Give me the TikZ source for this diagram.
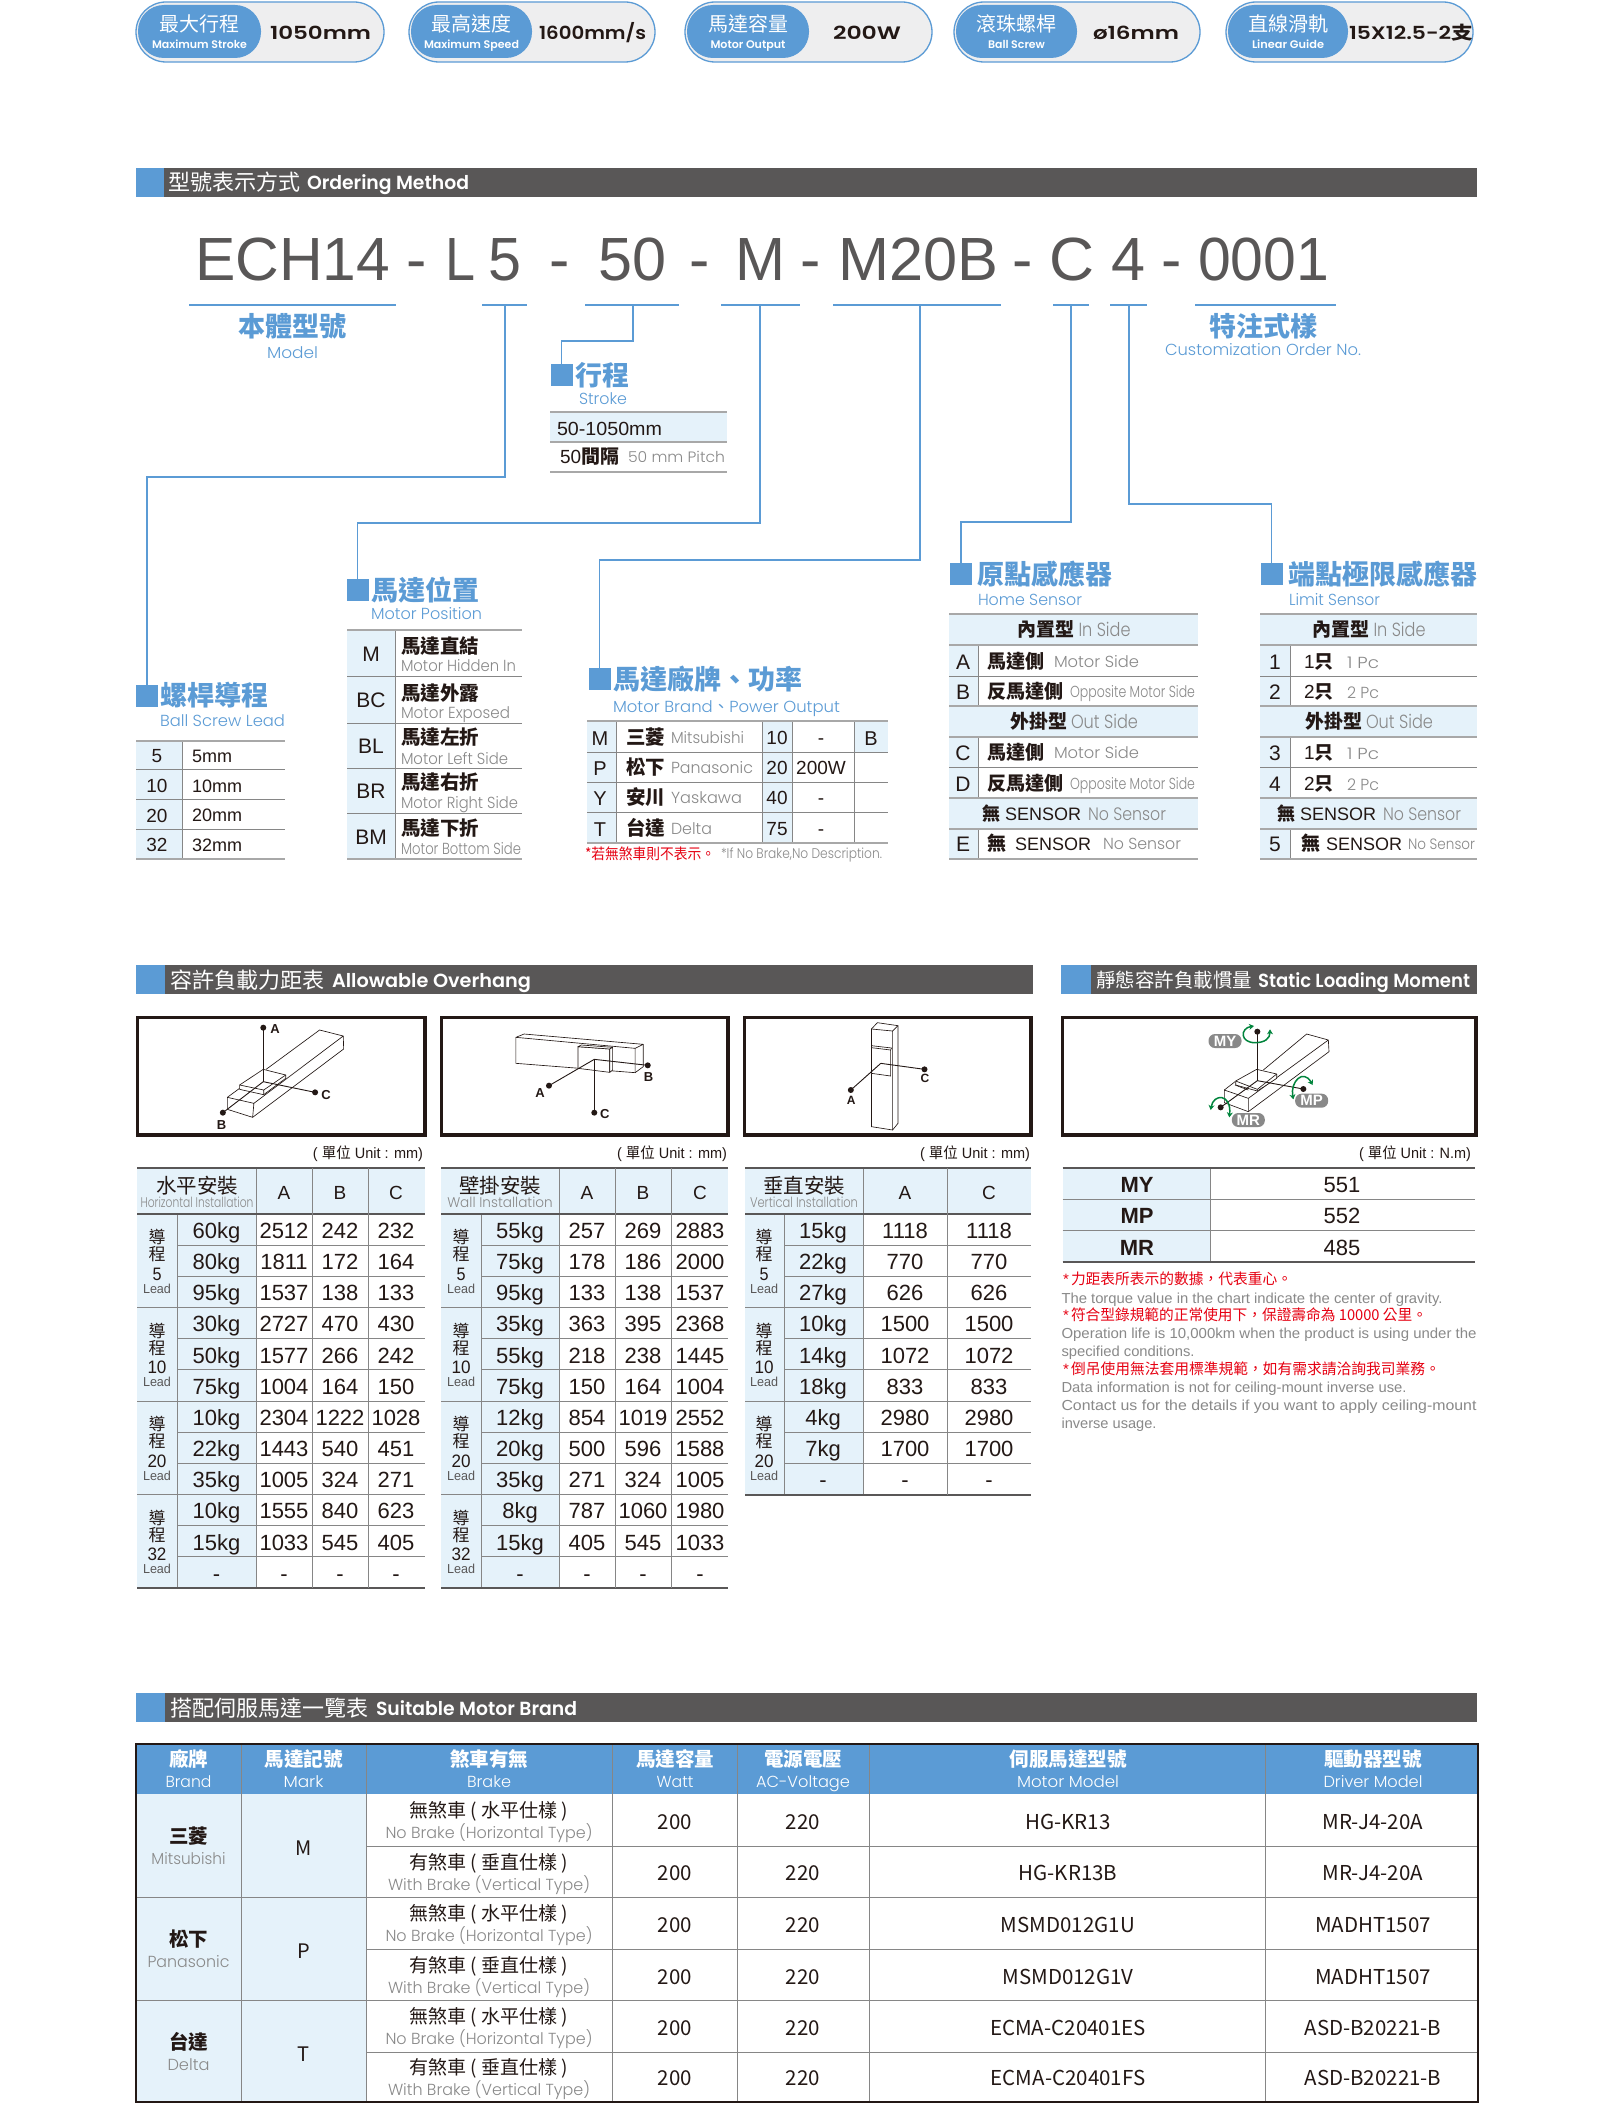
\documentclass[tikz,border=0pt]{standalone}
\usepackage{fontspec}
\usepackage{graphicx}
\usetikzlibrary{arrows.meta}
\setmainfont{Liberation Sans}
\newfontfamily\zcjf{Noto Sans CJK TC}
\newfontfamily\zplf{Poppins Light}
\newfontfamily\zpbf{Poppins SemiBold}
\newcommand\zcj[1]{{\zcjf #1}}
\newcommand\zcb[1]{{\zcjf\bfseries #1}}
\newcommand\zpl[1]{{\zplf #1}}
\newcommand\zpb[1]{{\zpbf #1}}
\newcommand\zfit[2]{\resizebox{#1pt}{\height}{#2}}
\definecolor{ink}{HTML}{231815}
\definecolor{gr}{HTML}{898989}
\definecolor{blu}{HTML}{5B9BD5}
\definecolor{lb}{HTML}{E5F2FA}
\definecolor{dark}{HTML}{595757}
\definecolor{rul}{HTML}{A8A8A8}
\definecolor{grn}{HTML}{00843C}
\definecolor{redn}{HTML}{E60012}
\definecolor{pbg}{HTML}{EEEEEF}
\newcommand\zg[2]{\textcolor{gr}{\zfit{#1}{\zpl{#2}}}}
\newcommand\zb[2]{\textcolor{blu}{\zfit{#1}{\zpl{#2}}}}
\newcounter{nn}
\newcommand\lab[5][]{\stepcounter{nn}\node[txt,yshift={-0.36*#4 pt - 0.8pt},#1] (n\thenn) at ({#2},{#3}) {\fontsize{#4}{#4}\selectfont #5};}
\newcommand\zhl[4][irule]{\draw[#1] (#2,#4) -- (#3,#4);}
\newcommand\zvl[4][irule]{\draw[#1] (#2,#3) -- (#2,#4);}
\newcommand\zpill[9]{%
  \fill[pbg,draw=blu,line width=1.3pt,rounded corners=30pt] (#1,2) rectangle (#2,62);
  \fill[blu,rounded corners=26pt] ({#1+2},5) rectangle (#3,58);
  \lab{(#1+2+#3)/2}{24}{20}{\textcolor{white}{\zcj{#4}}}
  \lab{(#1+2+#3)/2}{44}{11}{\textcolor{white}{\zfit{#6}{\zpb{#5}}}}
  \lab[anchor=base west]{#8}{32}{18}{\zfit{#9}{\zpb{#7}}}
}
\newcommand\ohgrid[5]{% x0, xlead, xkg, xright, nrows
  \fill[lb] (#1,1168) rectangle (#4,1214);
  \pgfmathsetmacro\yend{1214+31.17*#5}
  \fill[lb] (#1,1214) rectangle (#3,\yend);
  \foreach \q in {1,...,#5}{
    \pgfmathsetmacro\yq{1214+31.17*\q}
    \pgfmathtruncatemacro\mq{mod(\q,3)}
    \ifnum\mq=0 \draw[irule] (#1,\yq) -- (#4,\yq); \else \draw[irule] (#2,\yq) -- (#4,\yq); \fi
  }
  \draw[irule] (#2,1214) -- (#2,\yend);
  \draw[irule] (#3,1168) -- (#3,\yend);
  \draw[drule] (#1,1168) -- (#4,1168);
  \draw[drule] (#1,1214) -- (#4,1214);
  \draw[drule] (#1,\yend) -- (#4,\yend);
}
\newcommand\zlead[3]{% x, group index, number
  \pgfmathsetmacro\yg{1214+93.5*#2}
  \lab{#1}{\yg+23}{17}{\zcj{導}}
  \lab{#1}{\yg+40}{17}{\zcj{程}}
  \lab{#1}{\yg+59}{18}{\zfit{\ifnum#3>9 19\else 9\fi}{#3}}
  \lab{#1}{\yg+74}{13}{\textcolor{dark}{\zfit{28}{Lead}}}
}
\newcommand\ohrow[9]{% idx xk xa xb xc k a b c
  \pgfmathsetmacro\yy{1214+31.17*(#1+.5)}
  \lab{#2}{\yy}{22}{#6}
  \lab{#3}{\yy}{22}{#7}
  \lab{#4}{\yy}{22}{#8}
  \lab{#5}{\yy}{22}{#9}
}
\begin{document}
\begin{tikzpicture}[x=1pt,y=-1pt,
  txt/.style={inner sep=0pt,outer sep=0pt,anchor=base,text=ink},
  irule/.style={draw=rul!80!black,line width=1pt},
  grule/.style={draw=rul,line width=1.8pt},
  lrule/.style={draw=rul,line width=1pt},
  drule/.style={draw=dark,line width=2pt},
  conn/.style={draw=blu,line width=1.2pt},
  ul/.style={draw=blu,line width=1.5pt},
  sq/.style={fill=blu,minimum width=22pt,minimum height=22pt,inner sep=0pt,outer sep=0pt},
  lw/.style={anchor=base west},
  le/.style={anchor=base east},
  boxf/.style={draw=ink,line width=3.2pt},
  sk/.style={draw=ink,line width=.65pt,line join=round},
  ax/.style={draw=ink,line width=.9pt},
  rot/.style={draw=grn,line width=1.5pt,{Stealth[length=5pt,width=6pt]}-{Stealth[length=5pt,width=6pt]}},
  tagp/.style={fill=gr,rounded corners=6.5pt,minimum width=33pt,minimum height=14pt,inner sep=0pt,text=white,font=\fontsize{15}{15}\selectfont\bfseries}
]
\useasboundingbox (0,0) rectangle (1613,2106);
\fill[white] (0,0) rectangle (1613,2106);
%--- pills
\zpill{136}{384}{261}{最大行程}{Maximum Stroke}{95}{1050mm}{270}{101}
\zpill{409}{655}{532}{最高速度}{Maximum Speed}{95}{1600mm/s}{539}{107}
\zpill{685}{932}{809}{馬達容量}{Motor Output}{75}{200W}{833}{68}
\zpill{954}{1200}{1077}{滾珠螺桿}{Ball Screw}{57}{ø16mm}{1093}{86}
\zpill{1226}{1473}{1348}{直線滑軌}{Linear Guide}{72}{15X12.5-2\zcb{支}}{1349}{124}
%--- section bars
\fill[dark] (136,168) rectangle (1477,196.5);
\fill[blu] (136,168) rectangle (164,196.5);
\lab[lw]{168}{182}{22}{\textcolor{white}{\zcj{型號表示方式}}}
\lab[lw]{307}{182}{19}{\textcolor{white}{\zfit{162}{\zpb{Ordering Method}}}}
\fill[dark] (136,965) rectangle (1032.5,994);
\fill[blu] (136,965) rectangle (165,994);
\lab[lw]{170}{980}{22}{\textcolor{white}{\zcj{容許負載力距表}}}
\lab[lw]{332}{980}{19}{\textcolor{white}{\zfit{199}{\zpb{Allowable Overhang}}}}
\fill[dark] (1061,965) rectangle (1477,994);
\fill[blu] (1061,965) rectangle (1091,994);
\lab[lw]{1096}{980}{19.5}{\textcolor{white}{\zcj{靜態容許負載慣量}}}
\lab[lw]{1258}{980}{19}{\textcolor{white}{\zfit{212}{\zpb{Static Loading Moment}}}}
\fill[dark] (136,1693) rectangle (1477,1722);
\fill[blu] (136,1693) rectangle (165,1722);
\lab[lw]{170}{1708}{22}{\textcolor{white}{\zcj{搭配伺服馬達一覽表}}}
\lab[lw]{376}{1708}{19}{\textcolor{white}{\zfit{201}{\zpb{Suitable Motor Brand}}}}
%--- ordering code
\newcommand\zbig[3]{\lab[lw]{#1}{258.2}{61}{\textcolor{dark}{\zfit{#2}{#3}}}}
\newcommand\zdash[1]{\lab{#1}{258.2}{61}{\textcolor{dark}{-}}}
\zbig{195}{195}{ECH14}\zdash{417}
\zbig{445}{30}{L}\zbig{488}{33}{5}\zdash{560}
\zbig{598}{68}{50}\zdash{700}
\zbig{735}{50}{M}\zdash{811}
\zbig{838}{160}{M20B}\zdash{1023}
\zbig{1049}{45}{C}\zbig{1111}{34}{4}\zdash{1172}
\zbig{1198}{131}{0001}
\foreach \a/\b in {189/396,482/527,585/679,721/800,833/1001,1053/1089,1110/1147,1195/1336}{\draw[ul] (\a,305) -- (\b,305);}
\lab{292.5}{326}{27}{\textcolor{blu}{\zcb{本體型號}}}
\lab{292.5}{352}{16}{\zb{51}{Model}}
\lab{1263}{326}{27}{\textcolor{blu}{\zcb{特注式樣}}}
\lab{1263}{349}{16}{\zb{196}{Customization Order No.}}
%--- heading squares and connectors
\node[sq] (sqS) at (561.5,375) {};
\node[sq] (sqL) at (147,696) {};
\node[sq] (sqP) at (357.5,590) {};
\node[sq] (sqB) at (599.5,678.5) {};
\node[sq] (sqH) at (961,573.5) {};
\node[sq] (sqR) at (1271.5,573.5) {};
\coordinate (uL) at (505,305); \coordinate (bL) at (147,477);
\coordinate (uS) at (633,305); \coordinate (bS) at (561.5,341);
\coordinate (uP) at (760,305); \coordinate (bP) at (357.5,523);
\coordinate (uB) at (920,305); \coordinate (bB) at (599.5,560);
\coordinate (uH) at (1071,305); \coordinate (bH) at (961,522);
\coordinate (uR) at (1129,305); \coordinate (bR) at (1271.5,504);
\draw[conn] (uL) |- (bL) -- (sqL.north);
\draw[conn] (uS) |- (bS) -- (sqS.north);
\draw[conn] (uP) |- (bP) -- (sqP.north);
\draw[conn] (uB) |- (bB) -- (sqB.north);
\draw[conn] (uH) |- (bH) -- (sqH.north);
\draw[conn] (uR) |- (bR) -- (sqR.north);
%--- stroke
\lab[lw]{575}{375}{27}{\textcolor{blu}{\zcb{行程}}}
\lab{603}{398}{16}{\zb{48}{Stroke}}
\fill[lb] (550,412) rectangle (727,442);
\zhl[grule]{550}{727}{412}\zhl[grule]{550}{727}{442}\zhl[grule]{550}{727}{472}
\lab[lw]{557}{428}{19}{\zfit{105}{50-1050mm}}
\lab[lw]{560}{456}{19}{50\zcb{間隔}}
\lab[lw]{628}{456}{15}{\zg{97}{50 mm Pitch}}
%--- lead table
\lab[lw]{160}{695}{27}{\textcolor{blu}{\zcb{螺桿導程}}}
\lab[lw]{160}{720}{16}{\zb{125}{Ball Screw Lead}}
\fill[lb] (136,741) rectangle (182,859);
\zvl{182}{741}{859}
\zhl[grule]{136}{285}{741}\zhl[irule]{136}{285}{769}\zhl[irule]{136}{285}{799}\zhl[irule]{136}{285}{829}\zhl[grule]{136}{285}{859}
\foreach \y/\p/\q in {755/5/5mm,785/10/10mm,814.5/20/20mm,844/32/32mm}{
  \lab{157}{\y}{19}{\p}
  \lab[lw]{192}{\y}{18}{\q}
}
%--- motor position
\lab[lw]{371}{590}{27}{\textcolor{blu}{\zcb{馬達位置}}}
\lab[lw]{371}{613}{16}{\zb{111}{Motor Position}}
\fill[lb] (347,630) rectangle (395,859);
\zvl{395}{630}{859}
\zhl[grule]{347}{522}{630}\zhl{347}{522}{676}\zhl{347}{522}{723}\zhl{347}{522}{768}\zhl{347}{522}{813}\zhl[grule]{347}{522}{859}
\foreach \y/\yb/\yc/\k/\c/\w/\e in {653/646/665/M/馬達直結/115/Motor Hidden In,699/693/712/BC/馬達外露/109/Motor Exposed,745/737/758/BL/馬達左折/107/Motor Left Side,790/782/802/BR/馬達右折/117/Motor Right Side,836/828/848/BM/馬達下折/120/Motor Bottom Side}{
  \lab{371}{\y}{21}{\k}
  \lab[lw]{401}{\yb}{19.5}{\zcb{\c}}
  \lab[lw]{401}{\yc}{16}{\zg{\w}{\e}}
}
%--- motor brand
\lab[lw]{613}{679}{27}{\textcolor{blu}{\zcb{馬達廠牌、功率}}}
\lab[lw]{613}{706}{16}{\textcolor{blu}{\zfit{227}{\zpl{Motor Brand}\zcj{、}\zpl{Power Output}}}}
\fill[lb] (587,721) rectangle (616,843);
\fill[lb] (762,721) rectangle (792,843);
\fill[lb] (854,721) rectangle (888,752);
\foreach \x in {616,762,792,854}{\zvl{\x}{721}{843}}
\zhl[grule]{587}{888}{721}\zhl{587}{888}{752}\zhl{587}{888}{782}\zhl{587}{888}{812}\zhl[grule]{587}{888}{843}
\foreach \y/\k/\c/\w/\e/\n/\p in {737/M/三菱/73/Mitsubishi/10/-,767/P/松下/82/Panasonic/20/200W,797/Y/安川/71/Yaskawa/40/-,828/T/台達/41/Delta/75/-}{
  \lab{600}{\y}{20}{\k}
  \lab[lw]{626}{\y}{19.5}{\zcb{\c}}
  \lab[lw]{671}{\y}{16}{\zg{\w}{\e}}
  \lab{777}{\y}{19}{\n}
  \lab{821}{\y}{19}{\p}
}
\lab{871}{737}{20}{B}
\lab[lw]{585}{853}{15}{\textcolor{redn}{\zfit{130}{\zcj{*若無煞車則不表示。}}}}
\lab[lw]{721}{853}{14}{\zg{161}{*If No Brake,No Description.}}
%--- home sensor and limit sensor
\lab[lw]{977}{573.5}{27}{\textcolor{blu}{\zcb{原點感應器}}}
\lab[lw]{978}{599}{16}{\zb{104}{Home Sensor}}
\lab[lw]{1288}{573.5}{27}{\textcolor{blu}{\zcb{端點極限感應器}}}
\lab[lw]{1289}{599}{16}{\zb{91}{Limit Sensor}}
\newcommand\zsens[3]{% x0 xsep x1
  \fill[lb] (#1,614) rectangle (#2,859);
  \fill[lb] (#1,614) rectangle (#3,645);
  \fill[lb] (#1,706) rectangle (#3,737);
  \fill[lb] (#1,798) rectangle (#3,829);
  \zvl{#2}{645}{706}\zvl{#2}{737}{798}\zvl{#2}{829}{859}
  \zhl[grule]{#1}{#3}{614}\zhl[grule]{#1}{#3}{645}\zhl{#1}{#3}{676}\zhl[grule]{#1}{#3}{706}
  \zhl[grule]{#1}{#3}{737}\zhl{#1}{#3}{767}\zhl[grule]{#1}{#3}{798}\zhl[grule]{#1}{#3}{829}\zhl[grule]{#1}{#3}{859}
}
\zsens{949}{978}{1198}
\zsens{1260}{1290}{1477}
\foreach \c in {1074,1369}{
  \lab{\c}{629}{19}{\zcb{內置型}\hspace{4pt}\zg{52}{In Side}}
  \lab{\c}{721}{19}{\zcb{外掛型}\hspace{4pt}\zg{67}{Out Side}}
  \lab{\c}{813.5}{18}{\zcb{無} SENSOR\hspace{7pt}\zg{78}{No Sensor}}
}
\foreach \y/\k/\c/\w/\x/\e in {661/A/馬達側/85/1054/Motor Side,691/B/反馬達側/125/1070/Opposite Motor Side,752/C/馬達側/85/1054/Motor Side,783/D/反馬達側/125/1070/Opposite Motor Side}{
  \lab{963}{\y}{21}{\k}
  \lab[lw]{987}{\y}{19}{\zcb{\c}}
  \lab[lw]{\x}{\y}{16}{\zg{\w}{\e}}
}
\lab{963}{843}{21}{E}
\lab[lw]{987}{843}{19}{\zcb{無}}
\lab[lw]{1015}{843}{18}{SENSOR}
\lab[lw]{1103}{843}{16}{\zg{78}{No Sensor}}
\foreach \y/\k/\c/\e in {661/1/1/1 Pc,691/2/2/2 Pc,752/3/1/1 Pc,783/4/2/2 Pc}{
  \lab{1275}{\y}{21}{\k}
  \lab[lw]{1304}{\y}{19}{\c\zcb{只}}
  \lab[lw]{1347}{\y+1}{16}{\zg{32}{\e}}
}
\lab{1275}{843}{21}{5}
\lab[lw]{1301}{843}{19}{\zcb{無}}
\lab[lw]{1326}{843}{18}{SENSOR}
\lab[lw]{1408}{843}{15}{\zg{67}{No Sensor}}
%--- picture boxes
\foreach \a/\b in {137.5/425,441.5/728,744.5/1031,1062.5/1476}{\draw[boxf] (\a,1017.5) rectangle (\b,1135);}
% box 1
\begin{scope}[shift={(120,950)},x=.40816pt,y=-.33333pt]
  \draw[sk] (263,442) -- (263,478) -- (325,502) -- (328,460) -- cycle;
  \draw[sk] (328,460) -- (547,258) -- (489,240) -- (358,358);
  \draw[sk] (325,502) -- (548,297) -- (547,258);
  \draw[sk] (263,442) -- (293,415);
  \draw[sk,fill=white] (351,358) -- (406,375) -- (406,385) -- (352,434) -- (293,418) -- (293,405) -- cycle;
  \draw[sk] (293,405) -- (352,420) -- (406,375) (352,420) -- (352,434);
  \draw[ax] (351,233) -- (351,395);
  \draw[ax] (351,395) -- (478,427);
  \draw[ax] (351,395) -- (252,488);
  \fill[ink] (351,233) circle[radius=3pt] (478,427) circle[radius=3pt] (252,488) circle[radius=3pt];
  \lab{380}{235}{13}{\textbf{A}}
  \lab{505}{432}{13}{\textbf{C}}
  \lab{249}{522}{13}{\textbf{B}}
\end{scope}
% box 2
\begin{scope}[shift={(120,950)},x=.40816pt,y=-.33333pt]
  \draw[sk] (970,262) -- (970,340) -- (1262,368) -- (1262,295) -- cycle;
  \draw[sk] (970,262) -- (990,252) -- (1282,283) -- (1262,295);
  \draw[sk] (1282,283) -- (1282,350) -- (1262,368);
  \draw[sk,fill=white] (1122,290) -- (1122,355) -- (1200,367) -- (1200,297) -- cycle;
  \draw[sk,fill=white] (1122,290) -- (1130,285) -- (1207,292) -- (1200,297) -- cycle;
  \draw[sk,fill=white] (1207,292) -- (1207,360) -- (1200,367) -- (1200,297) -- cycle;
  \draw[ax] (1162,328) -- (1051,407);
  \draw[ax] (1162,328) -- (1293,346);
  \draw[ax] (1162,328) -- (1162,488);
  \fill[ink] (1051,407) circle[radius=3pt] (1293,346) circle[radius=3pt] (1162,488) circle[radius=3pt];
  \lab{1029}{425}{13}{\textbf{A}}
  \lab{1295}{377}{13}{\textbf{B}}
  \lab{1188}{488}{13}{\textbf{C}}
\end{scope}
% box 3
\begin{scope}[shift={(730,950)},x=.49115pt,y=-.33333pt]
  \draw[sk] (288,237) -- (288,530) -- (331,540) -- (331,243) -- cycle;
  \draw[sk] (288,237) -- (300,218) -- (342,227) -- (331,243);
  \draw[sk] (342,227) -- (342,520) -- (331,540);
  \draw[sk,fill=white] (288,293) -- (327,300) -- (327,378) -- (288,370) -- cycle;
  \draw[sk] (288,293) -- (288,287) -- (329,294) -- (327,300);
  \draw[ax] (307,340) -- (246,420);
  \draw[ax] (307,340) -- (396,358);
  \fill[ink] (246,420) circle[radius=3pt] (396,358) circle[radius=3pt];
  \lab{247}{447}{12}{\textbf{A}}
  \lab{397}{383}{12}{\textbf{C}}
\end{scope}
% box 4
\begin{scope}[shift={(1180,1010)},x=.33333pt,y=-.33333pt]
  \draw[sk] (133,240) -- (133,278) -- (205,305) -- (205,265) -- cycle;
  \draw[sk] (205,265) -- (445,90) -- (380,72) -- (250,180);
  \draw[sk] (205,305) -- (447,125) -- (445,90);
  \draw[sk] (133,240) -- (165,215);
  \draw[sk] (165,225) -- (205,240);
  \draw[sk,fill=white] (230,178) -- (290,192) -- (290,205) -- (232,243) -- (167,225) -- (167,213) -- cycle;
  \draw[sk] (167,213) -- (232,238) -- (290,192) (232,238) -- (232,243);
  \draw[ax] (232,65) -- (232,212);
  \draw[ax] (232,212) -- (370,237);
  \draw[ax] (232,212) -- (122,292);
  \fill[ink] (232,65) circle[radius=3pt] (370,237) circle[radius=3pt] (122,292) circle[radius=3pt];
  \draw[rot] (222,48) .. controls (180,55) and (180,98) .. (225,98) .. controls (255,98) and (270,85) .. (270,58);
  \draw[rot] (340,268) .. controls (330,215) and (370,175) .. (398,225);
  \draw[rot] (92,300) .. controls (100,250) and (155,250) .. (148,322);
  \node[tagp] (tMY) at (135,93) {MY};
  \node[tagp] (tMP) at (395,272) {MP};
  \node[tagp] (tMR) at (205,330) {MR};
\end{scope}
%--- unit captions
\lab[le]{423}{1152}{15}{\zfit{110}{( \zcj{單位} Unit : mm)}}
\lab[le]{727}{1152}{15}{\zfit{110}{( \zcj{單位} Unit : mm)}}
\lab[le]{1030}{1152}{15}{\zfit{110}{( \zcj{單位} Unit : mm)}}
\lab[le]{1471}{1152}{15}{\zfit{112}{( \zcj{單位} Unit : N.m)}}
%--- overhang table 1
\ohgrid{137}{177}{256}{424.5}{12}
\foreach \x in {312.5,368}{\zvl{\x}{1168}{1588}}
\lab{197}{1185}{20.5}{\zcj{水平安裝}}
\lab{197}{1202}{14}{\zg{113}{Horizontal Installation}}
\foreach \x/\h in {284/A,340/B,396/C}{\lab{\x}{1192}{19}{\h}}
\zlead{157}{0}{5}\zlead{157}{1}{10}\zlead{157}{2}{20}\zlead{157}{3}{32}
\foreach \i/\k/\a/\b/\c in {0/60kg/2512/242/232,1/80kg/1811/172/164,2/95kg/1537/138/133,3/30kg/2727/470/430,4/50kg/1577/266/242,5/75kg/1004/164/150,6/10kg/2304/1222/1028,7/22kg/1443/540/451,8/35kg/1005/324/271,9/10kg/1555/840/623,10/15kg/1033/545/405,11/-/-/-/-}{
  \ohrow{\i}{216.5}{284}{340}{396}{\k}{\a}{\b}{\c}
}
%--- overhang table 2
\ohgrid{441}{481}{559}{728}{12}
\foreach \x in {615.5,671}{\zvl{\x}{1168}{1588}}
\lab{500}{1185}{20.5}{\zcj{壁掛安裝}}
\lab{500}{1202}{14}{\zg{105.5}{Wall Installation}}
\foreach \x/\h in {587/A,643/B,700/C}{\lab{\x}{1192}{19}{\h}}
\zlead{461}{0}{5}\zlead{461}{1}{10}\zlead{461}{2}{20}\zlead{461}{3}{32}
\foreach \i/\k/\a/\b/\c in {0/55kg/257/269/2883,1/75kg/178/186/2000,2/95kg/133/138/1537,3/35kg/363/395/2368,4/55kg/218/238/1445,5/75kg/150/164/1004,6/12kg/854/1019/2552,7/20kg/500/596/1588,8/35kg/271/324/1005,9/8kg/787/1060/1980,10/15kg/405/545/1033,11/-/-/-/-}{
  \ohrow{\i}{520}{587}{643}{700}{\k}{\a}{\b}{\c}
}
%--- overhang table 3
\ohgrid{745}{784}{863}{1031}{9}
\zvl{947}{1168}{1494.5}
\lab{804}{1185}{20.5}{\zcj{垂直安裝}}
\lab{804}{1202}{14}{\zg{108}{Vertical Installation}}
\foreach \x/\h in {905/A,989/C}{\lab{\x}{1192}{19}{\h}}
\zlead{764}{0}{5}\zlead{764}{1}{10}\zlead{764}{2}{20}
\foreach \i/\k/\a/\c in {0/15kg/1118/1118,1/22kg/770/770,2/27kg/626/626,3/10kg/1500/1500,4/14kg/1072/1072,5/18kg/833/833,6/4kg/2980/2980,7/7kg/1700/1700,8/-/-/-}{
  \pgfmathsetmacro\yy{1214+31.17*(\i+.5)}
  \lab{823}{\yy}{22}{\k}
  \lab{905}{\yy}{22}{\a}
  \lab{989}{\yy}{22}{\c}
}
%--- moment table
\fill[lb] (1062.5,1168) rectangle (1210,1262);
\zvl{1210}{1168}{1262}
\zhl[drule]{1062.5}{1475}{1168}\zhl{1062.5}{1475}{1199}\zhl{1062.5}{1475}{1230}\zhl[drule]{1062.5}{1475}{1262}
\foreach \y/\k/\v in {1184/MY/551,1215/MP/552,1246.5/MR/485}{
  \lab{1137}{\y}{22}{\textbf{\k}}
  \lab{1342}{\y}{22}{\v}
}
%--- notes
\newcommand\zred[4]{\lab[lw]{1063}{#1}{15}{\textcolor{redn}{*}}\lab[lw]{1071}{#1}{15}{\textcolor{redn}{\zfit{#2}{\zcj{#3}}}}}
\newcommand\zgry[3]{\lab[lw]{1061.5}{#1}{14.5}{\textcolor{gr}{\zfit{#2}{#3}}}}
\zred{1278}{221}{力距表所表示的數據，代表重心。}{}
\zgry{1297}{381}{The torque value in the chart indicate the center of gravity.}
\zred{1314}{356}{符合型錄規範的正常使用下，保證壽命為 10000 公里。}{}
\zgry{1332}{415}{Operation life is 10,000km when the product is using under the}
\zgry{1350}{133}{specified conditions.}
\zred{1368}{369}{倒吊使用無法套用標準規範，如有需求請洽詢我司業務。}{}
\zgry{1386}{345}{Data information is not for ceiling-mount inverse use.}
\zgry{1404}{415}{Contact us for the details if you want to apply ceiling-mount}
\zgry{1422}{95}{inverse usage.}
%--- motor table
\fill[blu] (136,1744) rectangle (1478,1794);
\fill[lb] (136,1794) rectangle (366,2102);
\foreach \y in {1846,1949,2052}{\zhl[irule]{366}{1478}{\y}}
\foreach \y in {1897,2000}{\zhl[irule]{136}{1478}{\y}}
\foreach \x in {241,366,612,737,869,1265}{\zvl{\x}{1744}{2102}}
\draw[draw=ink,line width=1.5pt] (136,1744) rectangle (1478,2102);
\foreach \x/\c/\w/\e in {188.5/廠牌/46/Brand,303.5/馬達記號/40/Mark,489/煞車有無/44/Brake,675/馬達容量/37/Watt,803/電源電壓/94/AC-Voltage,1068/伺服馬達型號/102/Motor Model,1373/驅動器型號/99/Driver Model}{
  \lab{\x}{1759}{19.5}{\textcolor{white}{\zcb{\c}}}
  \lab{\x}{1781}{16}{\textcolor{white}{\zfit{\w}{\zpl{\e}}}}
}
\foreach \y/\c/\w/\e/\k in {1836/三菱/74/Mitsubishi/M,1939/松下/82/Panasonic/P,2042/台達/42/Delta/T}{
  \lab{188.5}{\y}{19.5}{\zcb{\c}}
  \pgfmathsetmacro\yb{\y+22}
  \lab{188.5}{\yb}{16}{\zg{\w}{\e}}
  \pgfmathsetmacro\yc{\y+11}
  \lab{303.5}{\yc}{20}{\zcj{\k}}
}
\foreach \y/\m/\d in {1821/HG-KR13/MR-J4-20A,1872/HG-KR13B/MR-J4-20A,1924/MSMD012G1U/MADHT1507,1976/MSMD012G1V/MADHT1507,2027/ECMA-C20401ES/ASD-B20221-B,2077/ECMA-C20401FS/ASD-B20221-B}{
  \lab{675}{\y}{20.5}{\zcj{200}}
  \lab{803}{\y}{20.5}{\zcj{220}}
  \lab{1068}{\y}{20.5}{\zcj{\m}}
  \lab{1373}{\y}{20.5}{\zcj{\d}}
}
\foreach \y/\c/\w/\e in {1810/無煞車 ( 水平仕樣 )/207/No Brake (Horizontal Type),1862/有煞車 ( 垂直仕樣 )/202/With Brake (Vertical Type),1913/無煞車 ( 水平仕樣 )/207/No Brake (Horizontal Type),1965/有煞車 ( 垂直仕樣 )/202/With Brake (Vertical Type),2016/無煞車 ( 水平仕樣 )/207/No Brake (Horizontal Type),2067/有煞車 ( 垂直仕樣 )/202/With Brake (Vertical Type)}{
  \lab{489}{\y}{19}{\zcj{\c}}
  \pgfmathsetmacro\yb{\y+22}
  \lab{489}{\yb}{16}{\zg{\w}{\e}}
}
\end{tikzpicture}
\end{document}
